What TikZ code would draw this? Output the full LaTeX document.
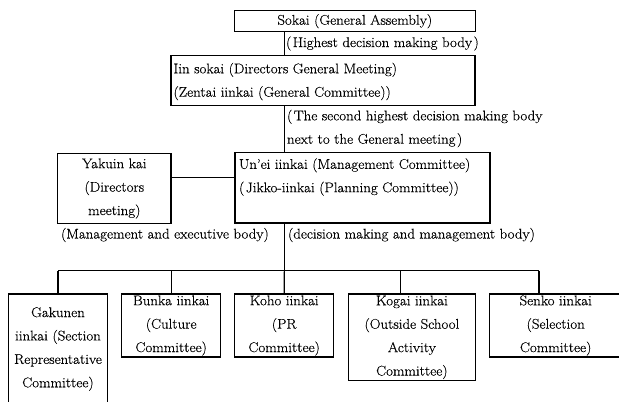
\documentclass[tikz,border=0pt]{standalone}
\usepackage{fontspec}
\setmainfont{Latin Modern Roman}[FakeBold=0.4,FakeStretch=1.06]
\usetikzlibrary{calc}
\begin{document}
\begin{tikzpicture}[x=1bp,y=-1bp,
  box/.style={draw, line width=1.1bp, inner sep=0pt, outer sep=0pt, align=center,
              font=\fontsize{14.1}{23.5}\selectfont},
  lbl/.style={inner sep=0pt, outer sep=0pt, align=left,
              font=\fontsize{14.1}{23.5}\selectfont},
  link/.style={line width=1.1bp}]
\useasboundingbox (0,0) rectangle (619,401);

% upper chain
\node[box, minimum width=241bp, minimum height=21bp] (sokai) at (354.8,21.2) {Sokai (General Assembly)};
\node[box, minimum width=304bp, minimum height=50.7bp] (iin) at (323,80.4) {};
\node[lbl, anchor=west] (iintext) at (173.5,81.5) {Iin sokai (Directors General Meeting)\\(Zentai iinkai (General Committee))};
\node[box, minimum width=255bp, minimum height=70.7bp] (unei) at (362.5,187.6) {};
\node[lbl, anchor=west] (ueitext) at (239,177) {Un'ei iinkai (Management Committee)\\(\kern1.5pt Jikko-iinkai (Planning Committee))};
\node[box, minimum width=113.3bp, minimum height=70.7bp] (yakuin) at (114.3,188.5) {Yakuin kai\\(Directors\\meeting)};

% explanatory notes
\node[lbl, anchor=west] (note1) at (286,43.5) {(\kern1.5pt Highest decision making body\kern1.5pt)};
\node[lbl, anchor=west] (note2) at (287,128.5) {(\kern1.5pt The second highest decision making body\\next to the General meeting\kern1.5pt)};
\node[lbl, anchor=west] (note3) at (61,235) {(Management and executive body)};
\node[lbl, anchor=west] (note4) at (288,235) {(decision making and management body)};

% committees
\node[box, minimum width=99.4bp, minimum height=110bp] (gakunen) at (58,349) {Gakunen\\iinkai (Section\\Representative\\Committee)};
\node[box, minimum width=99bp, minimum height=63bp] (bunka) at (171.2,325.5) {Bunka iinkai\\(Culture\\Committee)};
\node[box, minimum width=99bp, minimum height=63bp] (koho) at (284.2,325.5) {Koho iinkai\\(PR\\Committee)};
\node[box, minimum width=127.7bp, minimum height=86.7bp] (kogai) at (411.9,337.3) {Kogai iinkai\\(Outside School\\Activity\\Committee)};
\node[box, minimum width=132.7bp, minimum height=63bp] (senko) at (555.7,325.5) {Senko iinkai\\(Selection\\Committee)};

% connector points
\coordinate (spine) at (284.3,0);
\coordinate (d1) at (58,270.7);
\coordinate (d2) at (171.2,270.7);
\coordinate (d3) at (284.3,270.7);
\coordinate (d4) at (400.7,270.7);
\coordinate (d5) at (539,270.7);

% connectors
\draw[link] (sokai.south -| spine) -- (iin.north -| spine);
\draw[link] (iin.south -| spine) -- (unei.north -| spine);
\draw[link] (yakuin.east |- 0,177.3) -- (unei.west |- 0,177.3);
\draw[link] (unei.south -| spine) -- (d3);
\draw[link] (d1) -- (d5);
\draw[link] (d1) -- (gakunen.north);
\draw[link] (d2) -- (bunka.north);
\draw[link] (d3) -- (koho.north);
\draw[link] (d4) -- (d4 |- kogai.north);
\draw[link] (d5) -- (d5 |- senko.north);
\end{tikzpicture}
\end{document}
